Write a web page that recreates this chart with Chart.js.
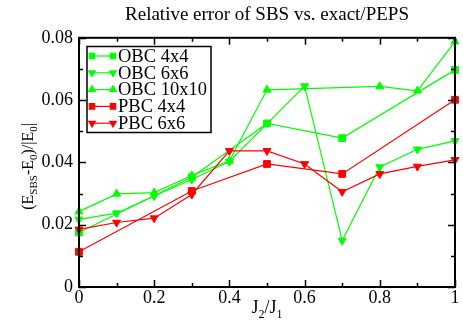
<!DOCTYPE html>
<html>
<head>
<meta charset="utf-8">
<script src="https://cdn.jsdelivr.net/npm/chart.js@4.4.1/dist/chart.umd.min.js"></script>
<style>html,body{margin:0;padding:0;background:#fff}canvas{display:block}</style>
</head>
<body>
<canvas id="c" width="463" height="329"></canvas>
<script>
// ---- data ----
const labels = ["OBC 4x4", "OBC 6x6", "OBC 10x10", "PBC 4x4", "PBC 6x6"];
const xObc4x4 = [0, 0.3, 0.5, 0.7, 1.0];
const yObc4x4 = [0.0175, 0.0352, 0.0525, 0.0478, 0.0697];
const xObc6x6 = [0, 0.1, 0.2, 0.3, 0.4, 0.6, 0.7, 0.8, 0.9, 1.0];
const yObc6x6 = [0.0217, 0.0237, 0.0292, 0.0345, 0.0403, 0.0645, 0.0149, 0.0385, 0.0442, 0.0469];
const xObc10x10 = [0, 0.1, 0.2, 0.3, 0.4, 0.5, 0.8, 0.9, 1.0];
const yObc10x10 = [0.0242, 0.0299, 0.0303, 0.0358, 0.0405, 0.0633, 0.0644, 0.0630, 0.0788];
const xPbc4x4 = [0, 0.3, 0.5, 0.7, 1.0];
const yPbc4x4 = [0.0113, 0.0308, 0.0395, 0.0363, 0.0601];
const xPbc6x6 = [0, 0.1, 0.2, 0.3, 0.4, 0.5, 0.6, 0.7, 0.8, 0.9, 1.0];
const yPbc6x6 = [0.0185, 0.0207, 0.0221, 0.0297, 0.0437, 0.0437, 0.0395, 0.0306, 0.0363, 0.0387, 0.0408];
const xTicks = [0, 0.2, 0.4, 0.6, 0.8, 1];
const yTicks = [0, 0.02, 0.04, 0.06, 0.08];

const GREEN = '#00ff00', RED = '#ff0000';
const SERIF = "'Liberation Serif', 'Times New Roman', serif";
const pts = (xs, ys) => xs.map((x, i) => ({x: x, y: ys[i]}));

function ds(label, data, color, style, rot, order) {
  return {
    label: label, data: data, borderColor: color, backgroundColor: color,
    borderWidth: 1.2, pointStyle: style, pointRotation: rot,
    pointRadius: style === 'rect' ? 4.8 : 4.6, pointHoverRadius: 4.6,
    pointBorderWidth: 1, pointBackgroundColor: color, pointBorderColor: color,
    tension: 0, clip: false, order: order, showLine: true
  };
}

const datasets = [
  ds(labels[0], pts(xObc4x4, yObc4x4), GREEN, 'rect', 0, 4),
  ds(labels[1], pts(xObc6x6, yObc6x6), GREEN, 'triangle', 180, 3),
  ds(labels[2], pts(xObc10x10, yObc10x10), GREEN, 'triangle', 0, 2),
  ds(labels[3], pts(xPbc4x4, yPbc4x4), RED, 'rect', 0, 1),
  ds(labels[4], pts(xPbc6x6, yPbc6x6), RED, 'triangle', 180, 0)
];

function fmt(v) { return String(+(+v).toFixed(2)); }

function runsWidth(ctx, runs, main, sub) {
  let w = 0;
  runs.forEach(r => { ctx.font = r[1] ? sub : main; w += ctx.measureText(r[0]).width; });
  return w;
}
function drawRuns(ctx, runs, x, y, main, sub, subDy) {
  runs.forEach(r => {
    ctx.font = r[1] ? sub : main;
    ctx.fillText(r[0], x, y + (r[1] ? subDy : 0));
    x += ctx.measureText(r[0]).width;
  });
}

const decor = {
  id: 'decor',
  afterDraw(chart) {
    const ctx = chart.ctx, a = chart.chartArea;
    const xs = chart.scales.x, ys = chart.scales.y;
    ctx.save();
    ctx.strokeStyle = '#000';
    ctx.lineWidth = 1.5;
    // ticks (inward, mirrored)
    for (let i = 0; i <= 10; i++) {
      const v = i / 10, px = Math.round(xs.getPixelForValue(v)) + 0.5;
      const len = i % 2 === 0 ? 7 : 4;
      ctx.beginPath();
      ctx.moveTo(px, a.bottom); ctx.lineTo(px, a.bottom - len);
      ctx.moveTo(px, a.top); ctx.lineTo(px, a.top + len);
      ctx.stroke();
    }
    for (let i = 0; i <= 8; i++) {
      const v = i / 100, py = Math.round(ys.getPixelForValue(v)) + 0.5;
      const len = i % 2 === 0 ? 7 : 4;
      ctx.beginPath();
      ctx.moveTo(a.left, py); ctx.lineTo(a.left + len, py);
      ctx.moveTo(a.right, py); ctx.lineTo(a.right - len, py);
      ctx.stroke();
    }
    // frame
    ctx.lineWidth = 2;
    ctx.strokeRect(a.left, a.top, a.right - a.left, a.bottom - a.top);

    // axis titles
    ctx.fillStyle = '#000';
    ctx.textBaseline = 'alphabetic';
    const main = "18px " + SERIF, sub = "12px " + SERIF;
    const xt = [["J", 0], ["2", 1], ["/J", 0], ["1", 1]];
    const xw = runsWidth(ctx, xt, main, sub);
    drawRuns(ctx, xt, (a.left + a.right) / 2 - xw / 2, 313, main, sub, 5);

    const ymain = "16px " + SERIF, ysub = "11px " + SERIF;
    const yt = [["(E", 0], ["SBS", 1], ["-E", 0], ["0", 1], [")/|E", 0], ["0", 1], ["|", 0]];
    const yw = runsWidth(ctx, yt, ymain, ysub);
    ctx.save();
    ctx.translate(33, (a.top + a.bottom) / 2 + 4);
    ctx.rotate(-Math.PI / 2);
    drawRuns(ctx, yt, -yw / 2, 0, ymain, ysub, 4);
    ctx.restore();

    // legend
    const lx = 87, ly = 46.5, lw = 124, lh = 86;
    ctx.fillStyle = '#fff';
    ctx.fillRect(lx, ly, lw, lh);
    ctx.lineWidth = 1.5;
    ctx.strokeStyle = '#000';
    ctx.strokeRect(lx, ly, lw, lh);
    chart.data.datasets.forEach((d, i) => {
      const cy = 56 + i * 16.8;
      ctx.strokeStyle = d.borderColor;
      ctx.lineWidth = 1.2;
      ctx.beginPath(); ctx.moveTo(92, cy); ctx.lineTo(113, cy); ctx.stroke();
      [92, 113].forEach(px => {
        ctx.fillStyle = d.borderColor;
        Chart.helpers.drawPoint(ctx, {pointStyle: d.pointStyle, rotation: d.pointRotation, radius: 3.8, borderWidth: 1}, px, cy);
      });
      ctx.fillStyle = '#000';
      ctx.font = "18.5px " + SERIF;
      ctx.textBaseline = 'middle';
      ctx.fillText(d.label, 118, cy + 1);
    });
    ctx.restore();
  }
};

new Chart(document.getElementById('c'), {
  type: 'line',
  data: { datasets: datasets },
  options: {
    responsive: false, animation: false, devicePixelRatio: 1,
    layout: { padding: { left: 0, right: 8, top: 0, bottom: 0 } },
    plugins: {
      legend: { display: false },
      tooltip: { enabled: false },
      title: {
        display: true, text: 'Relative error of SBS vs. exact/PEPS', fullSize: false,
        color: '#000', font: { family: SERIF, size: 19, weight: 'normal' },
        padding: { top: 4, bottom: 11 }
      }
    },
    scales: {
      x: {
        type: 'linear', min: 0, max: 1,
        afterBuildTicks(s) { s.ticks = xTicks.map(v => ({value: v})); },
        ticks: { color: '#000', font: { family: SERIF, size: 18 }, padding: 0, maxRotation: 0, autoSkip: false, callback: v => fmt(v) },
        grid: { display: false, drawTicks: false, tickLength: 0 },
        border: { display: false },
        afterFit(s) { s.height = 42; }
      },
      y: {
        type: 'linear', min: 0, max: 0.08,
        afterBuildTicks(s) { s.ticks = yTicks.map(v => ({value: v})); },
        ticks: { color: '#000', font: { family: SERIF, size: 18 }, padding: 6, autoSkip: false, callback: v => fmt(v) },
        grid: { display: false, drawTicks: false, tickLength: 0 },
        border: { display: false },
        afterFit(s) { s.width = 79; }
      }
    }
  },
  plugins: [decor]
});
</script>
</body>
</html>
